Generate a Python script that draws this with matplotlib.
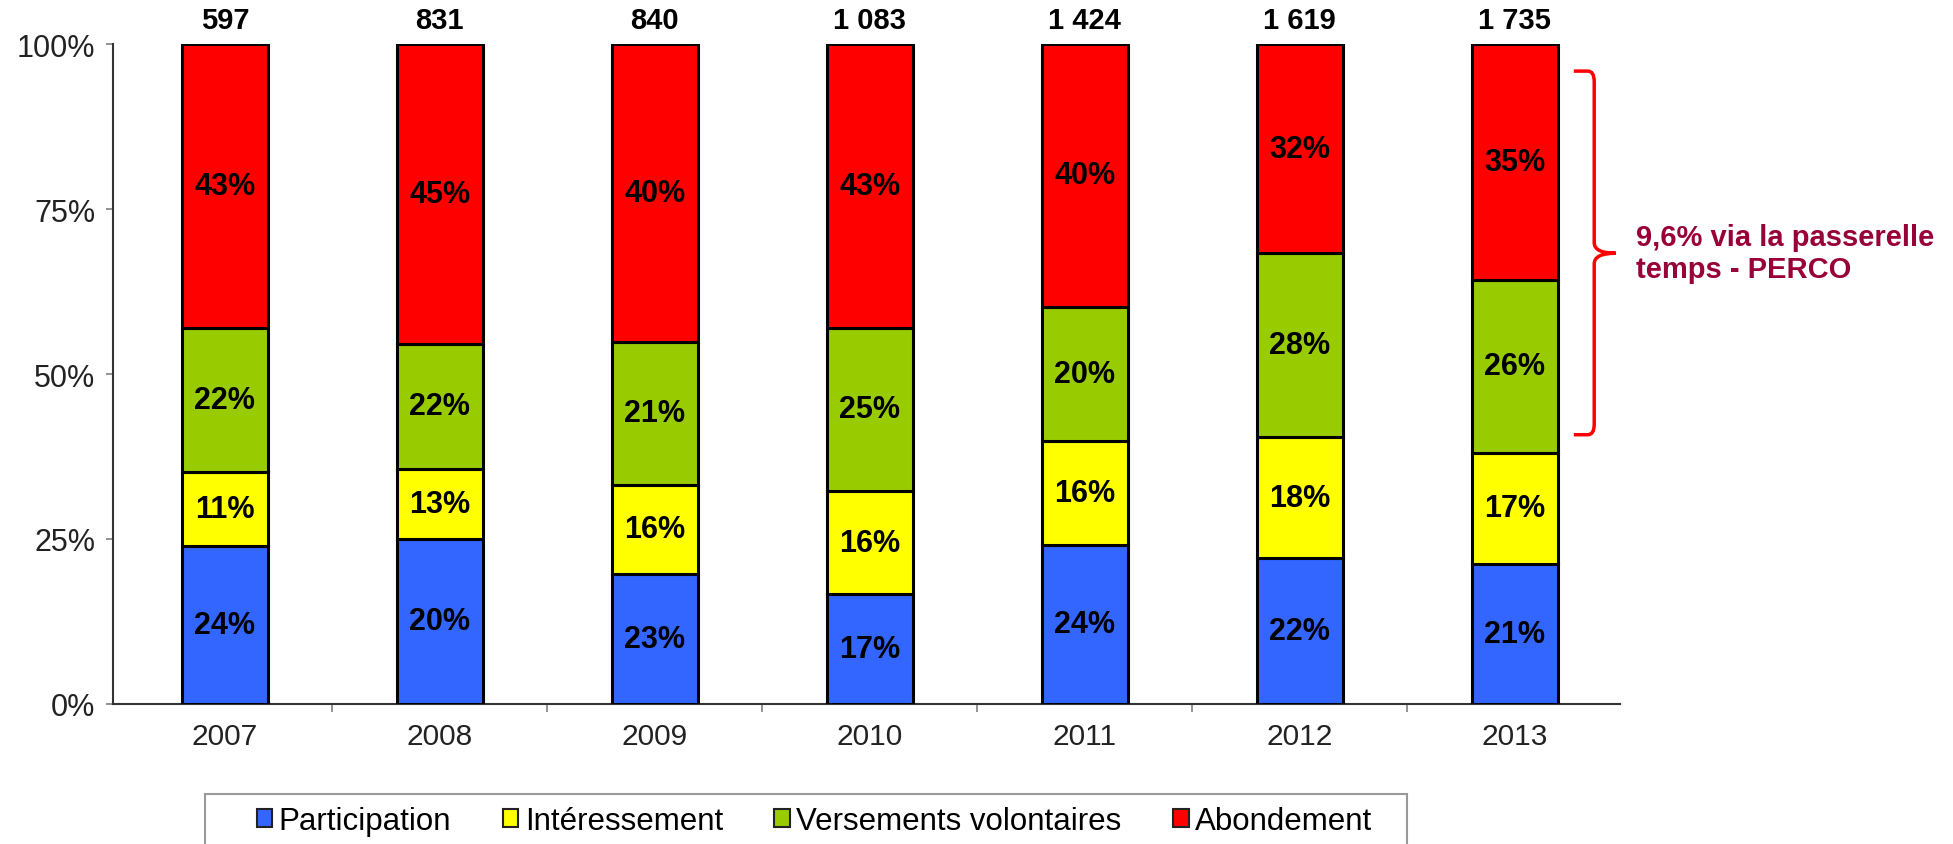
import matplotlib
matplotlib.use('Agg')
import matplotlib.pyplot as plt
from matplotlib.patches import Patch, PathPatch, Rectangle
from matplotlib.path import Path
import numpy as np

plt.rcParams['font.family'] = ['Liberation Sans', 'DejaVu Sans']

# ---------------------------------------------------------------
# Data
# ---------------------------------------------------------------
years = ['2007', '2008', '2009', '2010', '2011', '2012', '2013']
totals = [597, 831, 840, 1083, 1424, 1619, 1735]

# bar segment heights (%)
participation = [23.9, 25.0, 19.7, 16.6, 24.1, 22.1, 21.2]
interessement = [11.2, 10.6, 13.5, 15.7, 15.8, 18.3, 16.9]
versements = [21.9, 19.0, 21.7, 24.7, 20.3, 27.9, 26.2]
abondement = [43.0, 45.4, 45.1, 43.0, 39.8, 31.7, 35.7]

# labels printed inside the bars
part_lbl = [24, 20, 23, 17, 24, 22, 21]
inter_lbl = [11, 13, 16, 16, 16, 18, 17]
vers_lbl = [22, 22, 21, 25, 20, 28, 26]
abond_lbl = [43, 45, 40, 43, 40, 32, 35]

series_names = ['Participation', 'Intéressement', 'Versements volontaires', 'Abondement']
series_colors = ['#3366FF', '#FFFF00', '#99CC00', '#FF0000']

note_text = "9,6% via la passerelle\ntemps - PERCO"
brace_top, brace_mid, brace_bot = 95.9, 68.3, 40.8

_DARK = '#222222'
_TICK = '#808080'
_NOTE = '#990038'

fig = plt.figure(figsize=(19.53, 8.45), dpi=100)
ax = fig.add_axes([0.0579, 0.1657, 0.7716, 0.781])

x = np.arange(len(years))
values = [participation, interessement, versements, abondement]
labels = [part_lbl, inter_lbl, vers_lbl, abond_lbl]

bottom = np.zeros(len(years))
for vals, lbls, color in zip(values, labels, series_colors):
    vals = np.array(vals)
    ax.bar(x, vals, bottom=bottom, width=0.40, color=color,
           edgecolor='black', linewidth=2.2, zorder=3)
    for xi, b, v, l in zip(x, bottom, vals, lbls):
        ax.text(xi, b + v / 2, f"{l}%", ha='center', va='center',
                fontsize=22, fontweight='bold', color='black', zorder=4)
    bottom += vals

# totals above the bars, French thousands separator
for xi, t in zip(x, totals):
    ax.text(xi, 103.6, f"{t:,}".replace(',', ' '), ha='center', va='center',
            fontsize=21, fontweight='bold', color='black', clip_on=False)

# axes styling
ax.set_xlim(-0.52, 6.49)
ax.set_ylim(0, 100)
ax.set_yticks([0, 25, 50, 75, 100])
ax.set_yticklabels(['0%', '25%', '50%', '75%', '100%'], fontsize=22, color=_DARK)
ax.set_xticks(x)
ax.set_xticklabels(years, fontsize=21.5, color=_DARK)
ax.set_xticks(np.arange(len(years) - 1) + 0.5, minor=True)
ax.tick_params(axis='x', which='major', length=0, pad=13)
ax.tick_params(axis='x', which='minor', length=6, color=_TICK, width=1.2)
ax.tick_params(axis='y', length=5, color=_TICK, width=1.2, pad=8)
for side in ['top', 'right']:
    ax.spines[side].set_visible(False)
for side in ['left', 'bottom']:
    ax.spines[side].set_color('#333333')
    ax.spines[side].set_linewidth(1.5)

# red brace next to the last bar
x0, x1, x2 = 6.275, 6.37, 6.47
rx, ry = 0.03, 1.6
verts = [
    (x0, brace_top), (x1 - rx, brace_top),
    (x1, brace_top), (x1, brace_top - ry),
    (x1, brace_mid + ry),
    (x1, brace_mid), (x2, brace_mid),
    (x1, brace_mid), (x1, brace_mid - ry),
    (x1, brace_bot + ry),
    (x1, brace_bot), (x1 - rx, brace_bot),
    (x0, brace_bot),
]
codes = [Path.MOVETO, Path.LINETO,
         Path.CURVE3, Path.CURVE3,
         Path.LINETO,
         Path.CURVE3, Path.CURVE3,
         Path.CURVE3, Path.CURVE3,
         Path.LINETO,
         Path.CURVE3, Path.CURVE3,
         Path.LINETO]
brace = PathPatch(Path(verts, codes), facecolor='none', edgecolor='#FF0000',
                  linewidth=2.5, clip_on=False, zorder=5)
ax.add_patch(brace)

ax.text(6.565, brace_mid, note_text, ha='left', va='center', fontsize=21,
        fontweight='bold', color=_NOTE, clip_on=False, linespacing=1.2)

# legend box below the chart (frame drawn separately, runs off the bottom)
fig.patches.append(Rectangle((0.105, -0.02), 0.6155, 0.0792,
                             transform=fig.transFigure, facecolor='white',
                             edgecolor='#999999', linewidth=1.5, zorder=0))
handles = [Patch(facecolor=c, edgecolor='#222222', linewidth=1.5, label=n)
           for n, c in zip(series_names, series_colors)]
fig.legend(handles=handles, loc='center left', ncol=4,
           bbox_to_anchor=(0.1315, 0.027), fontsize=22.5, frameon=False,
           handlelength=0.5, handleheight=0.5, handletextpad=0.2,
           borderpad=0.0, borderaxespad=0.0, columnspacing=1.65)

fig.savefig('out.png', dpi=100)
